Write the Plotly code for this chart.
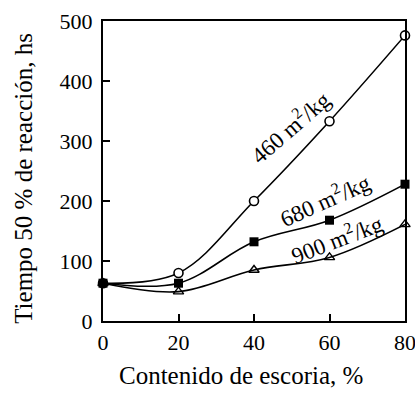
import plotly.graph_objects as go

escoria = [0, 20, 40, 60, 80]
t_460 = [63, 80, 200, 333, 476]
t_680 = [63, 63, 132, 168, 228]
t_900 = [63, 49, 85, 106, 161]

labels = ["460 m<sup>2</sup>/kg", "680 m<sup>2</sup>/kg", "900 m<sup>2</sup>/kg"]
label_x = [49.6, 58.8, 62.0]
label_y = [324, 202, 137]
label_angle = [-41, -24, -21]

x_title = "Contenido de escoria, %"
y_title = "Tiempo 50 % de reacción, hs"

FONT = "Liberation Serif"

fig = go.Figure()
line = dict(color="black", width=1.6, shape="spline", smoothing=1.0)
fig.add_trace(go.Scatter(x=escoria, y=t_900, mode="lines+markers", line=line,
                         marker=dict(symbol="triangle-up-open", size=9, color="black",
                                     line=dict(width=1.4, color="black")),
                         cliponaxis=False, showlegend=False))
fig.add_trace(go.Scatter(x=escoria, y=t_460, mode="lines+markers", line=line,
                         marker=dict(symbol="circle", size=9, color="white",
                                     line=dict(width=1.6, color="black")),
                         cliponaxis=False, showlegend=False))
fig.add_trace(go.Scatter(x=escoria, y=t_680, mode="lines+markers", line=line,
                         marker=dict(symbol="square", size=9, color="black",
                                     line=dict(width=0, color="black")),
                         cliponaxis=False, showlegend=False))

for txt, ax_, ay_, ang in zip(labels, label_x, label_y, label_angle):
    fig.add_annotation(x=ax_, y=ay_, text=txt, textangle=ang, showarrow=False,
                       xanchor="center", yanchor="middle",
                       font=dict(family=FONT, size=23, color="black"))

# axis titles as paper-anchored annotations
fig.add_annotation(x=0.457, y=-0.18, xref="paper", yref="paper", text=x_title,
                   showarrow=False, xanchor="center", yanchor="middle",
                   font=dict(family=FONT, size=25, color="black"))
fig.add_annotation(x=-0.262, y=0.477, xref="paper", yref="paper", text=y_title,
                   textangle=-90, showarrow=False, xanchor="center", yanchor="middle",
                   font=dict(family=FONT, size=25, color="black"))

fig.update_layout(
    width=415, height=394,
    margin=dict(l=103, r=10, t=21, b=73, autoexpand=False),
    plot_bgcolor="white", paper_bgcolor="white",
    font=dict(family=FONT, size=22, color="black"),
)
fig.update_xaxes(range=[0, 80], tickvals=[0, 20, 40, 60, 80], ticks="inside", ticklen=7,
                 tickwidth=1.5, tickcolor="black", showline=True, linecolor="black",
                 linewidth=2, mirror=True, showgrid=False, zeroline=False,
                 automargin=False, ticklabeloverflow="allow",
                 tickfont=dict(family=FONT, size=22), ticklabelstandoff=1)
fig.update_yaxes(range=[0, 500], tickvals=[0, 100, 200, 300, 400, 500], ticks="inside",
                 ticklen=7, tickwidth=1.5, tickcolor="black", showline=True,
                 linecolor="black", linewidth=2, mirror=True, showgrid=False,
                 zeroline=False, automargin=False, ticklabeloverflow="allow",
                 tickfont=dict(family=FONT, size=22), ticklabelstandoff=4)

fig.write_html("out.html")
